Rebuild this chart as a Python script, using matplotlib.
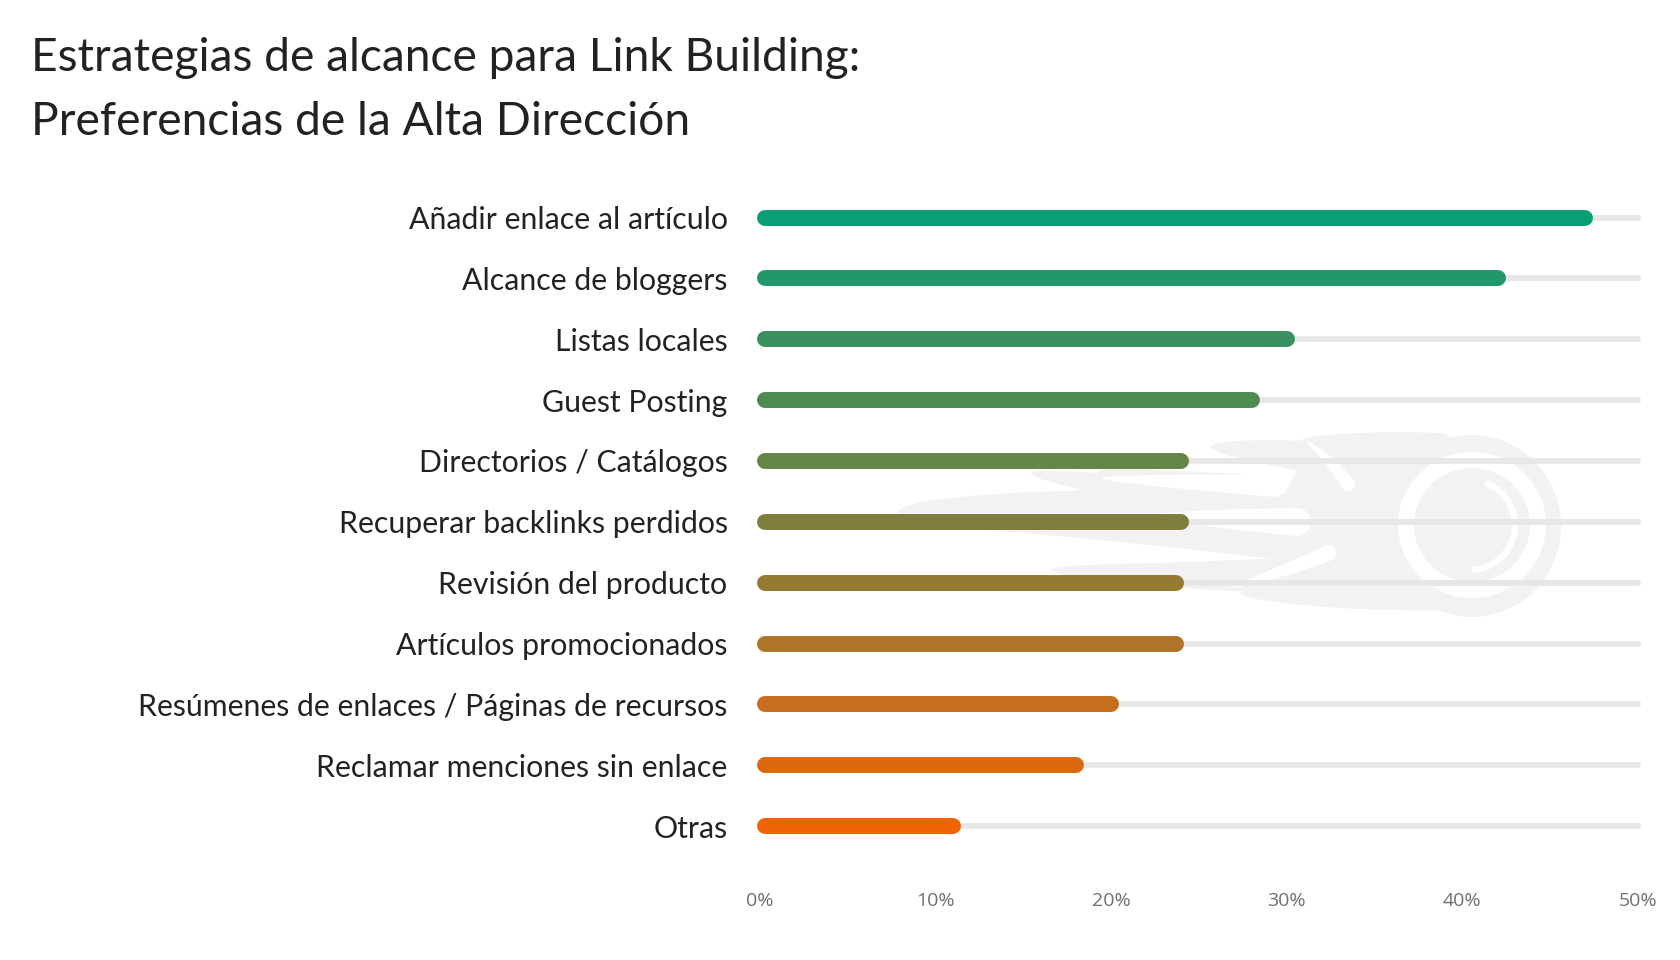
import numpy as np
import matplotlib.pyplot as plt
from matplotlib.patches import Ellipse, Polygon, Arc

categorias = [
    "Añadir enlace al artículo",
    "Alcance de bloggers",
    "Listas locales",
    "Guest Posting",
    "Directorios / Catálogos",
    "Recuperar backlinks perdidos",
    "Revisión del producto",
    "Artículos promocionados",
    "Resúmenes de enlaces / Páginas de recursos",
    "Reclamar menciones sin enlace",
    "Otras",
]
porcentajes = [47, 42, 30, 28, 24, 24, 23.7, 23.7, 20, 18, 11]
ticks = [0, 10, 20, 30, 40, 50]
tick_labels = ["0%", "10%", "20%", "30%", "40%", "50%"]
colores = [
    "#0a9e74", "#21976a", "#3a905e", "#4e8b52", "#668647", "#7e7f3c",
    "#977a32", "#ae7428", "#c66e1d", "#dc6912", "#f26304",
]

titulo = ["Estrategias de alcance para Link Building:",
          "Preferencias de la Alta Dirección"]

fig = plt.figure(figsize=(16.8, 9.6), dpi=100)

# marca de agua (llama + circulo), en pixeles de la figura
bg = fig.add_axes([0, 0, 1, 1], zorder=0)
bg.set_xlim(0, 1680)
bg.set_ylim(960, 0)
bg.axis("off")
gris_logo = "#f2f2f2"


def lengua(tip, end, w, bend=0.0, p=0.5, color=gris_logo):
    tip, end = np.array(tip, float), np.array(end, float)
    d = end - tip
    n = np.array([-d[1], d[0]]) / np.hypot(*d)
    ctrl = (tip + end) / 2 + n * bend
    t = np.linspace(0, 1, 40)[:, None]
    c = (1 - t) ** 2 * tip + 2 * (1 - t) * t * ctrl + t ** 2 * end
    tang = np.gradient(c, axis=0)
    tang /= np.hypot(tang[:, 0], tang[:, 1])[:, None]
    nn = np.column_stack([-tang[:, 1], tang[:, 0]])
    ww = w * t ** p
    a0 = np.arctan2(nn[-1, 1], nn[-1, 0])
    a = np.linspace(a0, a0 - np.pi, 20)
    cap = end + w * np.column_stack([np.cos(a), np.sin(a)])
    pts = np.vstack([c + nn * ww, cap, (c - nn * ww)[::-1]])
    bg.add_patch(Polygon(pts, closed=True, color=color, lw=0))


# cuerpo de la llama
lengua((897, 512), (1300, 528), 34, -10, 0.45)
lengua((1030, 473), (1250, 500), 18, 4)
lengua((1097, 472), (1250, 490), 15)
lengua((1210, 447), (1400, 470), 22, -4)
lengua((1050, 570), (1300, 575), 18, 5)
lengua((1240, 593), (1450, 592), 18, 6)
lengua((1300, 441), (1440, 447), 14, -3)
bg.add_patch(Ellipse((1380, 520), 200, 170, color=gris_logo, lw=0))
# huecos blancos entre lenguas
lengua((1100, 478), (1275, 486), 11, 0, 0.6, "white")
lengua((1150, 516), (1297, 522), 14, 0, 0.6, "white")
lengua((1230, 588), (1328, 553), 8, 3, 0.6, "white")
lengua((1306, 441), (1348, 484), 7, -5, 0.6, "white")
# cabeza
bg.add_patch(Ellipse((1472, 526), 178, 182, color=gris_logo, lw=0))
bg.add_patch(Ellipse((1472, 525), 132, 130, fill=False, ec="white", lw=11.5))
bg.add_patch(Arc((1470, 525), 90, 90, theta1=-70, theta2=88, color="white",
                 lw=4.5))

ax = fig.add_axes([0.4524, 0.1078, 0.5226, 0.6973], zorder=1)
ax.patch.set_alpha(0)

y = np.arange(len(categorias))
inicio = 0.3
for yi, v, c in zip(y, porcentajes, colores):
    ax.plot([inicio, ticks[-1]], [yi, yi], color="#e7e7e7", lw=4.3,
            solid_capstyle="round", clip_on=False)
    ax.plot([inicio, v], [yi, yi], color=c, lw=11.5, solid_capstyle="round",
            clip_on=False)

ax.set_xlim(ticks[0], ticks[-1])
ax.set_ylim(len(y) - 0.5, -0.5)
ax.set_xticks(ticks, tick_labels, fontfamily="Open Sans", fontsize=14,
              color="#707070")
ax.set_yticks(y, categorias, fontfamily="Lato", fontsize=21.8, color="#222222")
ax.tick_params(length=0)
ax.tick_params(axis="x", pad=25.5)
ax.tick_params(axis="y", pad=23.4)
for s in ax.spines.values():
    s.set_visible(False)

for i, linea in enumerate(titulo):
    fig.text(31 / 1680, 1 - (70.7 + 64.3 * i) / 960, linea, fontsize=33.2,
             family="Lato", va="baseline", color="#222222")

fig.savefig("out.png", dpi=100)
